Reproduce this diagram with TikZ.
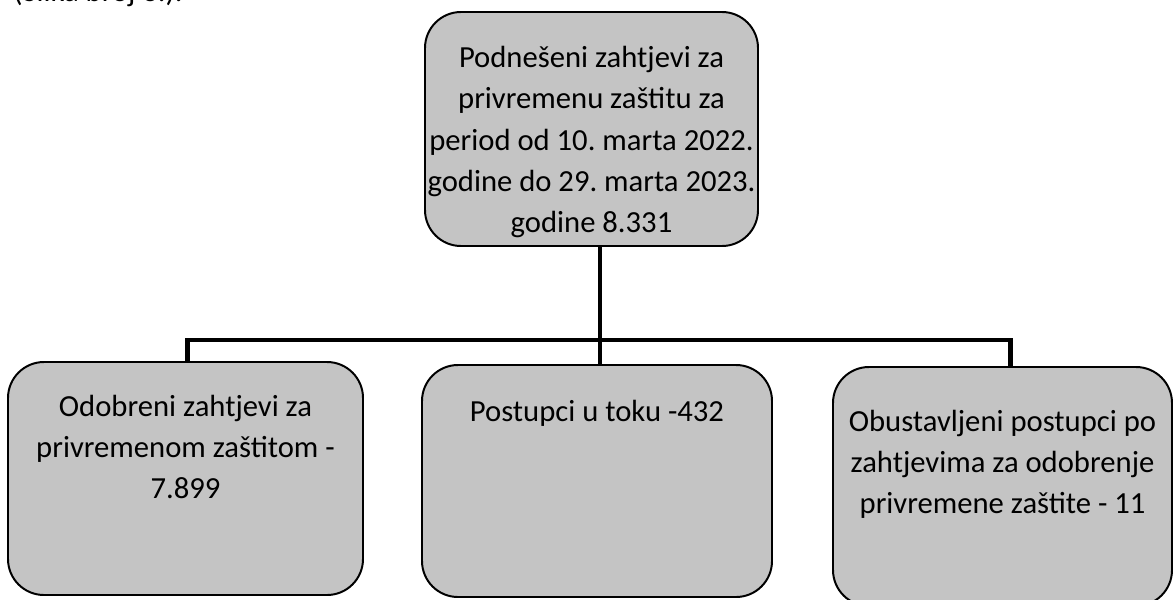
\documentclass[tikz,border=0pt]{standalone}
\usepackage{fontspec}
\setmainfont{Carlito}
\usetikzlibrary{positioning}
\definecolor{sivo}{RGB}{196,196,196}
\frenchspacing

\begin{document}
\begin{tikzpicture}[x=0.25mm, y=-0.25mm,
    kutija/.style={draw=black, line width=1.4pt, fill=sivo, rounded corners=9mm, inner sep=0pt},
    tekst/.style={align=center, font=\fontsize{21.8}{29.3}\selectfont, inner sep=0pt},
    veza/.style={line width=3.5pt}]

      \useasboundingbox (0,0) rectangle (1173,599);

      \node[tekst, anchor=base west] (slika) at (13,1) {(Slika broj 3.).};

      \node[kutija, minimum width=8.325cm, minimum height=5.85cm] (podneseni) at (591.5,129) {};
      \node[kutija, minimum width=8.875cm, minimum height=5.825cm] (odobreni) at (185.5,478.5) {};
      \node[kutija, minimum width=8.75cm, minimum height=5.8cm] (toku) at (597,481) {};
      \node[kutija, minimum width=8.475cm, minimum height=5.975cm] (obustavljeni) at (1002.5,486.5) {};

      \node[tekst, below=0.88cm of podneseni.north] {Podnešeni zahtjevi za\\ privremenu zaštitu za\\
        period od 10. marta 2022.\\ godine do 29. marta 2023.\\ godine 8.331};
      \node[tekst, below=0.85cm of odobreni.north] {Odobreni zahtjevi za\\ privremenom zaštitom -\\ 7.899};
      \node[tekst, below=0.9cm of toku.north] {Postupci u toku -432};
      \node[tekst, below=1.1cm of obustavljeni.north] {Obustavljeni postupci po\\ zahtjevima za odobrenje\\
        privremene zaštite - 11};

      % grananje
      \coordinate (grana) at (600,340);
      \draw[veza] (podneseni.south -| grana) -- (toku.north -| grana);
      \draw[veza] ([xshift=0.06cm]odobreni.north) |- (grana) -| ([xshift=0.21cm]obustavljeni.north);

\end{tikzpicture}
\end{document}
